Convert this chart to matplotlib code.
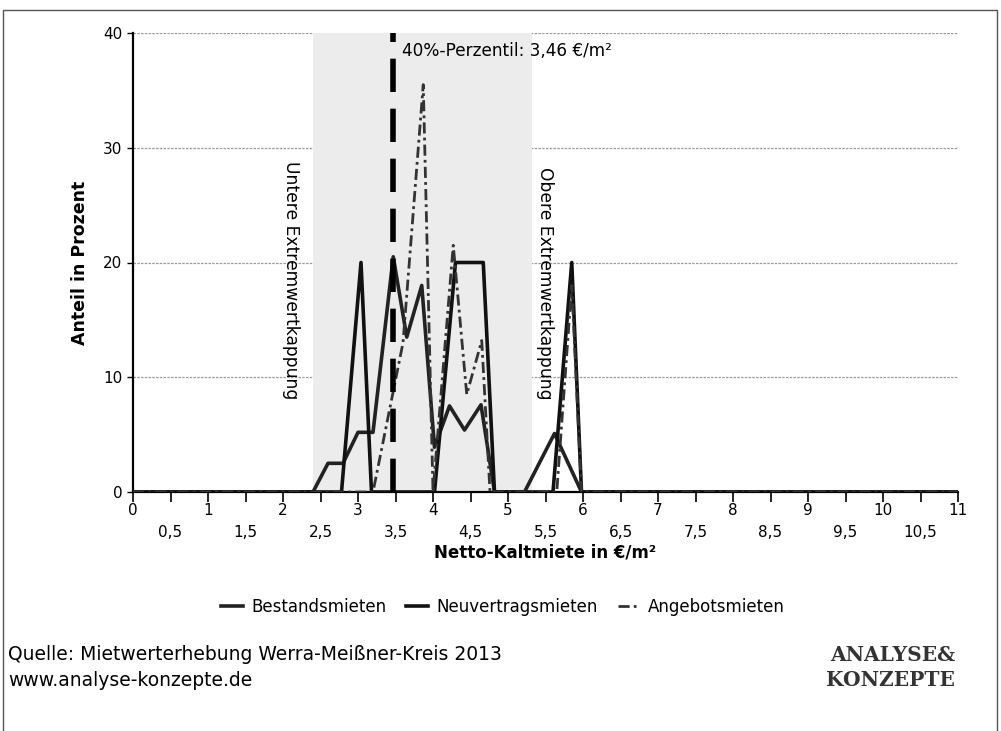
import numpy as np
import matplotlib
matplotlib.use("Agg")
import matplotlib.pyplot as plt
from matplotlib.patches import Rectangle

# ---- data (share in percent per rent level) ----
best_x = [0, 2.4, 2.6, 2.8, 3.0, 3.2, 3.47, 3.65, 3.85, 4.02, 4.22, 4.42, 4.64, 4.82,
          5.22, 5.62, 5.98, 11]
best_y = [0, 0, 2.5, 2.5, 5.2, 5.2, 20.5, 13.5, 18.0, 3.9, 7.5, 5.4, 7.6, 0,
          0, 5.1, 0, 0]
neu_x = [0, 2.78, 3.04, 3.18, 4.02, 4.3, 4.67, 4.82, 5.6, 5.85, 5.98, 11]
neu_y = [0, 0, 20.0, 0, 0, 20.0, 20.0, 0, 0, 20.0, 0, 0]
ang_x = [0, 3.2, 3.6, 3.87, 4.0, 4.27, 4.45, 4.65, 4.76, 5.65, 5.85, 5.98, 11]
ang_y = [0, 0, 13.0, 35.5, 0, 21.5, 8.5, 13.2, 0, 0, 18.0, 0, 0]

PERZ = 3.46
BAND = (2.4, 5.32)
maj = np.arange(0, 12)
mnr = np.arange(0.5, 11, 1.0)
maj_lab = [str(v) for v in maj]
mnr_lab = [f"{v:.1f}".replace(".", ",") for v in mnr]

fig = plt.figure(figsize=(10.01, 7.31), dpi=100)
ax = fig.add_axes([133 / 1001, 1 - 492 / 731, 825 / 1001, 459 / 731])

ax.set_xlim(0, 11)
ax.set_ylim(0, 40)
ax.set_yticks([0, 10, 20, 30, 40])
ax.yaxis.grid(True, color="#9a9a9a", lw=0.9, ls=(0, (2, 1)), zorder=0)
ax.set_axisbelow(True)
ax.add_patch(Rectangle((BAND[0], 0), BAND[1] - BAND[0], 40, fc="#ececec",
                       ec="none", zorder=1))

ax.plot(best_x, best_y, color="#222222", lw=2.6, zorder=4, label="Bestandsmieten")
ax.plot(neu_x, neu_y, color="#111111", lw=2.6, zorder=4, label="Neuvertragsmieten")
ax.plot(ang_x, ang_y, color="#333333", lw=2.0, ls=(0, (4, 1.5, 1, 1.5)), zorder=5,
        label="Angebotsmieten")
ax.plot([PERZ, PERZ], [0, 40], color="black", lw=4, ls=(0, (6, 3)), zorder=6)
ax.text(PERZ + 0.12, 38.4, "40%-Perzentil: 3,46 €/m²", fontsize=12.2,
        va="center", ha="left", zorder=7)

ax.text(2.1, 18.5, "Untere Extremwertkappung", rotation=-90, fontsize=12.3,
        ha="center", va="center", zorder=7)
ax.text(5.5, 18.2, "Obere Extremwertkappung", rotation=-90, fontsize=12.3,
        ha="center", va="center", zorder=7)

ax.spines[["top", "right"]].set_visible(False)
for s in ("left", "bottom"):
    ax.spines[s].set_linewidth(1.6)
ax.set_xticks(maj)
ax.set_xticklabels(maj_lab, fontsize=11)
ax.set_xticks(mnr, minor=True)
ax.set_xticklabels(mnr_lab, minor=True, fontsize=11)
ax.tick_params(axis="x", which="major", length=7, width=1.2, pad=1)
ax.tick_params(axis="x", which="minor", length=7, width=1.2, pad=17)
ax.tick_params(axis="y", length=4, width=1.0, labelsize=11)
ax.set_xlabel("Netto-Kaltmiete in €/m²", fontsize=12, fontweight="bold", labelpad=2)
ax.set_ylabel("Anteil in Prozent", fontsize=12.5, fontweight="bold", labelpad=10)

fig.legend(loc="center", bbox_to_anchor=(503 / 1001, 1 - 607 / 731), ncol=3,
           frameon=False, fontsize=12, handlelength=1.3, handletextpad=0.5,
           columnspacing=1.2)

fig.text(8 / 1001, 1 - 655 / 731, "Quelle: Mietwerterhebung Werra-Meißner-Kreis 2013",
         fontsize=13.5, va="center")
fig.text(8 / 1001, 1 - 680 / 731, "www.analyse-konzepte.de", fontsize=13.5, va="center")
fig.text(955 / 1001, 1 - 655 / 731, "ANALYSE&", family="DejaVu Serif", fontsize=14.5,
         fontweight="bold", ha="right", va="center", color="#333333")
fig.text(955 / 1001, 1 - 680 / 731, "KONZEPTE", family="DejaVu Serif", fontsize=14.5,
         fontweight="bold", ha="right", va="center", color="#333333")

# scanned page frame
fig.add_artist(Rectangle((3 / 1001, -0.01), 994 / 1001, 1 - 10 / 731 + 0.01,
                         transform=fig.transFigure, fill=False, ec="#555555", lw=1.0))

fig.savefig("out.png", dpi=100)
